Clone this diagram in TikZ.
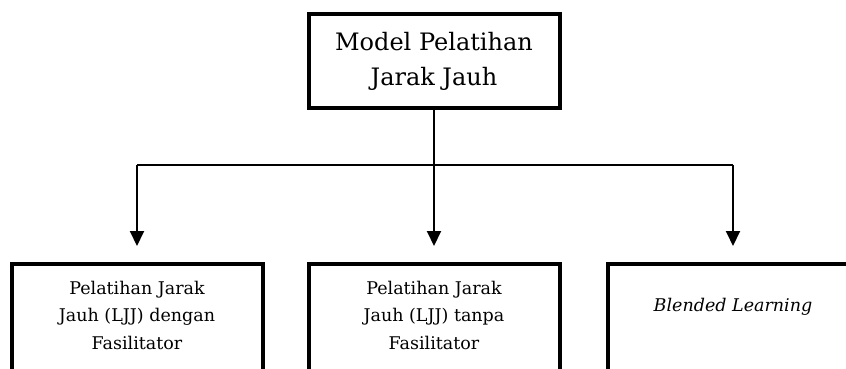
\documentclass[tikz,border=0pt]{standalone}
\usepackage{fontspec}
\setmainfont{DejaVu Serif}
\usetikzlibrary{arrows.meta}

\begin{document}
\begin{tikzpicture}[x=1pt,y=-1pt]

      \useasboundingbox (0,0) rectangle (846,369);
      \clip (0,0) rectangle (846,369);

      \begin{scope}[every node/.style={rectangle,draw,line width=4pt,minimum width=251pt}]
        \node (model) at (434,61) [minimum height=94pt,align=center,font=\fontsize{24}{35}\selectfont]
          {Model Pelatihan\\Jarak Jauh};
        \node (dengan) at (137,262) [anchor=north,minimum height=140pt] {};
        \node (tanpa)  at (434,262) [anchor=north,minimum height=140pt] {};
        \node (blend)  at (733,262) [anchor=north,minimum height=140pt] {};
      \end{scope}

      \begin{scope}[every node/.style={align=center,font=\fontsize{17.5}{27.5}\selectfont}]
        \node (t1) at (137,315) {Pelatihan Jarak\\Jauh (LJJ) dengan\\Fasilitator};
        \node (t2) at (434,315) {Pelatihan Jarak\\Jauh (LJJ) tanpa\\Fasilitator};
        \node (t3) at (733,307) {\itshape Blended Learning};
      \end{scope}

      \coordinate (hl) at (137,165);
      \coordinate (hr) at (733,165);

      \draw[line width=2pt] (hl) -- (hr);

      \begin{scope}[line width=2pt,-{Triangle[width=14pt,length=15pt]},shorten >=16pt]
        \draw (hl) -- (dengan.north);
        \draw (model.south) -- (tanpa.north);
        \draw (hr) -- (blend.north);
      \end{scope}

    \end{tikzpicture}
\end{document}
